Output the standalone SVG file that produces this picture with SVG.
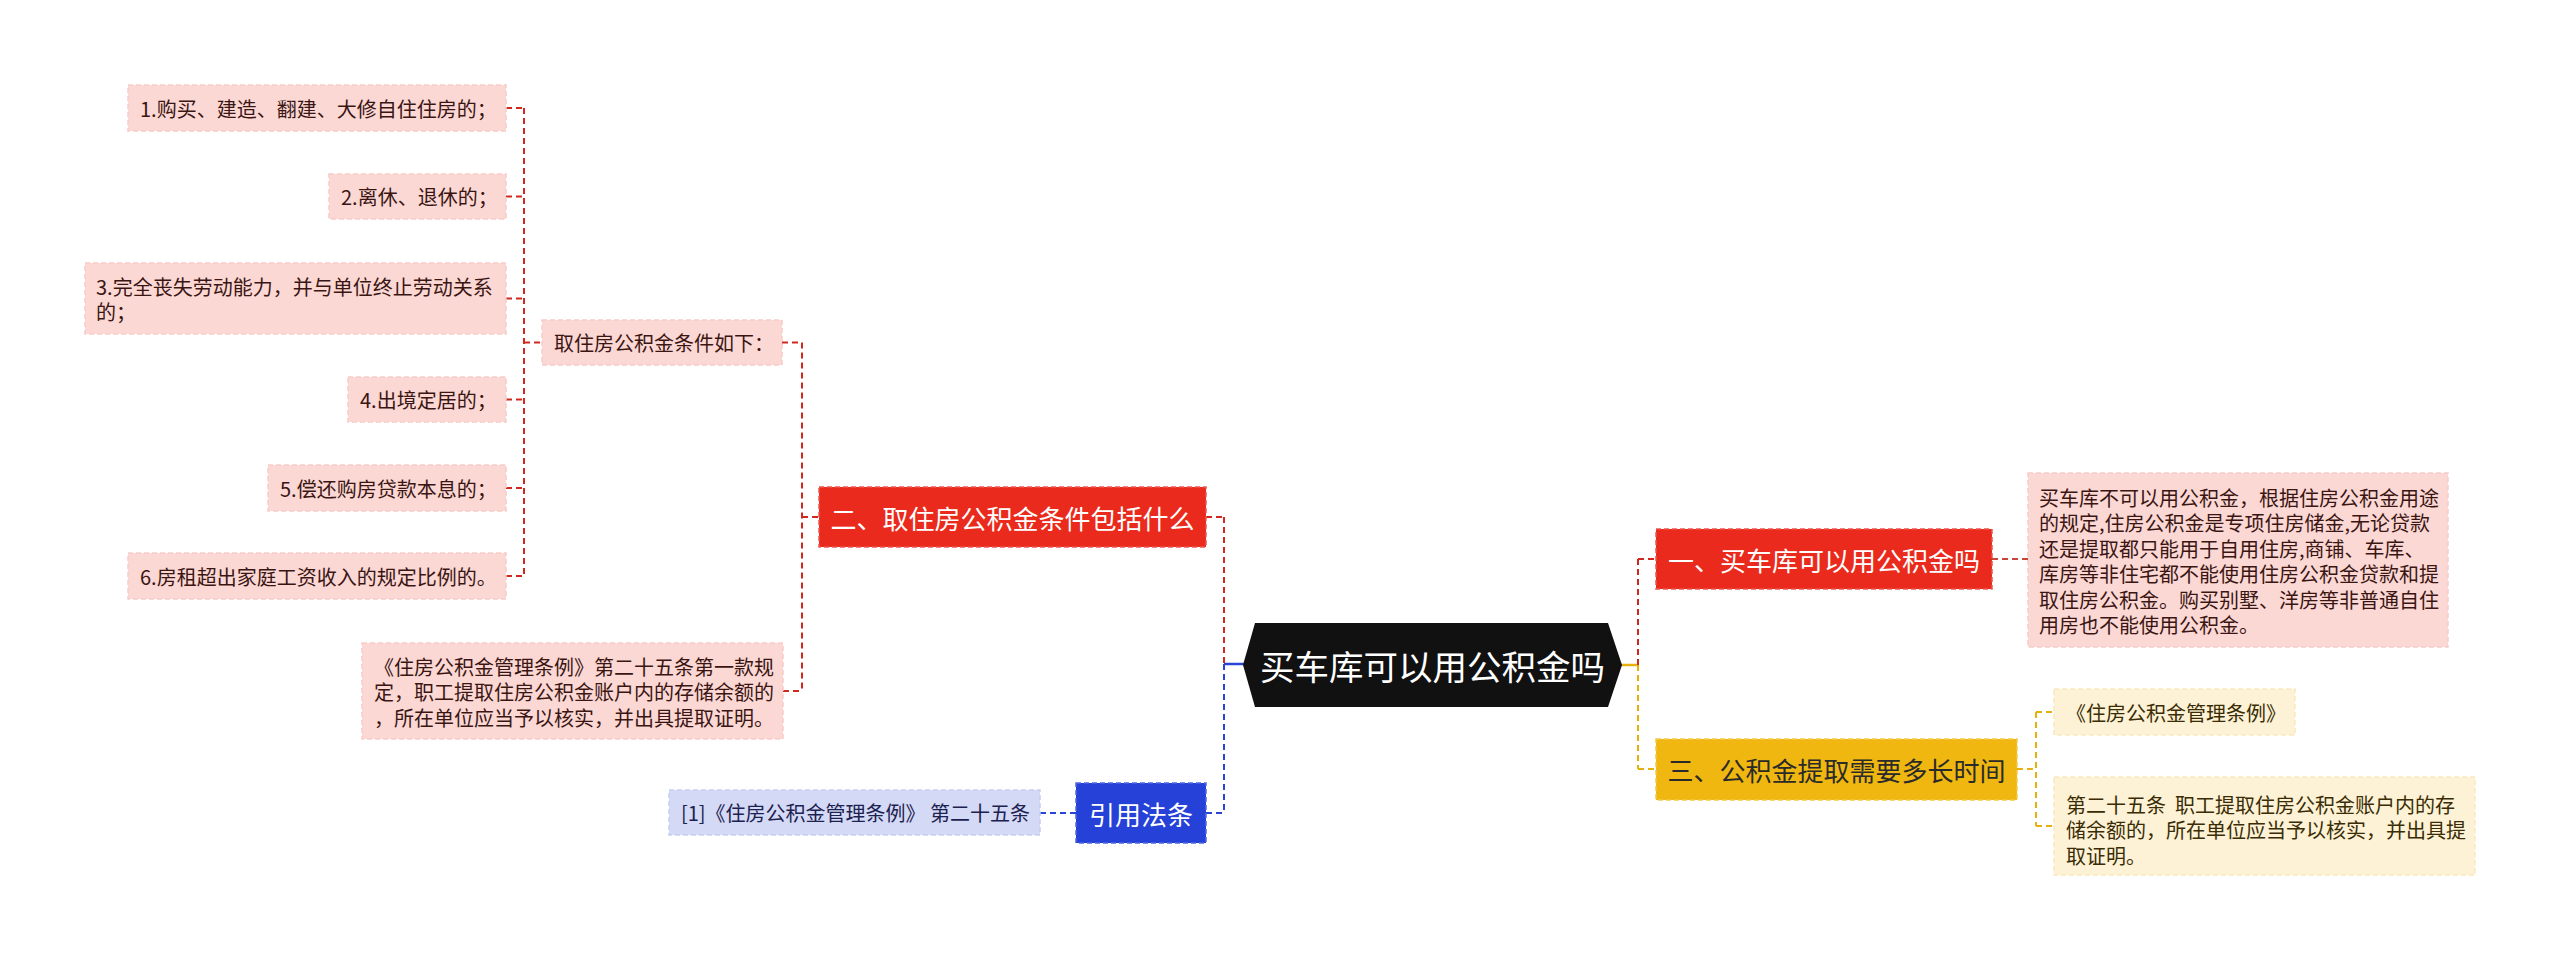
<svg xmlns="http://www.w3.org/2000/svg" width="2560" height="961" viewBox="0 0 2560 961">
<style>
text{font-family:"Noto Sans CJK SC","Noto Sans",sans-serif;dominant-baseline:central;}
.pink{fill:#fcd8d5;stroke:#f7cbc7;stroke-width:1.5;stroke-dasharray:5 3;}
.red{fill:#ea2a1c;stroke:#f0574c;stroke-width:1.5;stroke-dasharray:5 3;}
.yel{fill:#efb70f;stroke:#f4c948;stroke-width:1.5;stroke-dasharray:5 3;}
.lyel{fill:#fdf2d5;stroke:#f9e9bd;stroke-width:1.5;stroke-dasharray:5 3;}
.blue{fill:#2541d8;stroke:#5068e4;stroke-width:1.5;stroke-dasharray:5 3;}
.lblue{fill:#d4d9f5;stroke:#c6cdf1;stroke-width:1.5;stroke-dasharray:5 3;}
.t3{font-size:20px;fill:#3a1512;}
.ty{font-size:20px;fill:#3a2c05;}
.tb{font-size:20px;fill:#1c2150;}
.t2w{font-size:26px;fill:#ffffff;}
.t2d{font-size:26px;fill:#2a2a2a;}
.cr{stroke:#d0281e;stroke-width:2;stroke-dasharray:6 4;fill:none;}
.cb{stroke:#2a45d6;stroke-width:2;stroke-dasharray:6 4;fill:none;}
.cy{stroke:#e6b10c;stroke-width:2;stroke-dasharray:6 4;fill:none;}
</style>
<rect width="2560" height="961" fill="#ffffff"/>
<g id="connectors">
  <path class="cr" d="M524 108 V576"/>
  <path class="cr" d="M506 108 H524 M506 196.5 H524 M506 298.5 H524 M506 399.5 H524 M506 488 H524 M506 576 H524"/>
  <path class="cr" d="M524 342.5 H542"/>
  <path class="cr" d="M782 342.5 H802"/>
  <path class="cr" d="M802 342.5 V691"/>
  <path class="cr" d="M783 691 H802"/>
  <path class="cr" d="M802 517 H819"/>
  <path class="cr" d="M1206 517 H1224"/>
  <path class="cr" d="M1224 517 V664"/>
  <path d="M1224 664 H1244" stroke="#2a45d6" stroke-width="2.5" fill="none"/>
  <path class="cb" d="M1224 664 V813"/>
  <path class="cb" d="M1206 813 H1224"/>
  <path class="cb" d="M1040 813 H1076"/>
  <path d="M1621 665 H1638" stroke="#e6b10c" stroke-width="2.5" fill="none"/>
  <path class="cr" d="M1638 665 V559"/>
  <path class="cr" d="M1638 559 H1656"/>
  <path class="cy" d="M1638 665 V769"/>
  <path class="cy" d="M1638 769 H1656"/>
  <path class="cr" d="M1992 559 H2028" style="stroke:#c8453c"/>
  <path class="cy" d="M2017 769 H2036"/>
  <path class="cy" d="M2036 712 V826"/>
  <path class="cy" d="M2036 712 H2054 M2036 826 H2054"/>
</g>
<g id="center">
  <polygon points="1255,623 1608,623 1622,665 1608,707 1255,707 1243,665" fill="#111111"/>
  <text x="1432.5" y="665" font-size="34.5" fill="#ffffff" text-anchor="middle">买车库可以用公积金吗</text>
</g>
<g id="n-er">
  <rect class="red" x="819" y="487" width="387" height="60"/>
  <text class="t2w" x="1012.5" y="517" text-anchor="middle">二、取住房公积金条件包括什么</text>
</g>
<g id="n-cond">
  <rect class="pink" x="542" y="320" width="240" height="45"/>
  <text class="t3" x="554" y="342.5">取住房公积金条件如下：</text>
</g>
<g id="n-c1">
  <rect class="pink" x="128" y="85" width="378" height="46"/>
  <text class="t3" x="140" y="108">1.购买、建造、翻建、大修自住住房的；</text>
</g>
<g id="n-c2">
  <rect class="pink" x="329" y="174" width="177" height="45"/>
  <text class="t3" x="341" y="196.5">2.离休、退休的；</text>
</g>
<g id="n-c3">
  <rect class="pink" x="85" y="263" width="421" height="71"/>
  <text class="t3" x="96" y="286">3.完全丧失劳动能力，并与单位终止劳动关系</text>
  <text class="t3" x="96" y="311">的；</text>
</g>
<g id="n-c4">
  <rect class="pink" x="348" y="377" width="158" height="45"/>
  <text class="t3" x="360" y="399.5">4.出境定居的；</text>
</g>
<g id="n-c5">
  <rect class="pink" x="268" y="465" width="238" height="46"/>
  <text class="t3" x="280" y="488">5.偿还购房贷款本息的；</text>
</g>
<g id="n-c6">
  <rect class="pink" x="128" y="553" width="378" height="46"/>
  <text class="t3" x="140" y="576">6.房租超出家庭工资收入的规定比例的。</text>
</g>
<g id="n-law">
  <rect class="pink" x="362" y="643" width="421" height="96"/>
  <text class="t3" x="374" y="666">《住房公积金管理条例》第二十五条第一款规</text>
  <text class="t3" x="374" y="691.5">定，职工提取住房公积金账户内的存储余额的</text>
  <text class="t3" x="374" y="717">，所在单位应当予以核实，并出具提取证明。</text>
</g>
<g id="n-cite">
  <rect class="blue" x="1076" y="783" width="130" height="60"/>
  <text class="t2w" x="1141" y="813" text-anchor="middle">引用法条</text>
</g>
<g id="n-cite1">
  <rect class="lblue" x="669" y="790" width="371" height="45"/>
  <text class="tb" x="681" y="812.5">[1]《住房公积金管理条例》 第二十五条</text>
</g>
<g id="n-yi">
  <rect class="red" x="1656" y="529" width="336" height="60"/>
  <text class="t2w" x="1824" y="559" text-anchor="middle">一、买车库可以用公积金吗</text>
</g>
<g id="n-yi1">
  <rect class="pink" x="2028" y="473" width="420" height="174"/>
  <text class="t3" x="2039" y="497">买车库不可以用公积金，根据住房公积金用途</text>
  <text class="t3" x="2039" y="522.5">的规定,住房公积金是专项住房储金,无论贷款</text>
  <text class="t3" x="2039" y="548">还是提取都只能用于自用住房,商铺、车库、</text>
  <text class="t3" x="2039" y="573.5">库房等非住宅都不能使用住房公积金贷款和提</text>
  <text class="t3" x="2039" y="599">取住房公积金。购买别墅、洋房等非普通自住</text>
  <text class="t3" x="2039" y="624.5">用房也不能使用公积金。</text>
</g>
<g id="n-san">
  <rect class="yel" x="1656" y="739" width="361" height="61"/>
  <text class="t2d" x="1836.5" y="769.5" text-anchor="middle">三、公积金提取需要多长时间</text>
</g>
<g id="n-san1">
  <rect class="lyel" x="2054" y="689" width="241" height="46"/>
  <text class="ty" x="2066" y="712">《住房公积金管理条例》</text>
</g>
<g id="n-san2">
  <rect class="lyel" x="2054" y="777" width="421" height="98"/>
  <text class="ty" x="2066" y="804" style="white-space:pre">第二十五条  职工提取住房公积金账户内的存</text>
  <text class="ty" x="2066" y="829.5">储余额的，所在单位应当予以核实，并出具提</text>
  <text class="ty" x="2066" y="855">取证明。</text>
</g>
</svg>
